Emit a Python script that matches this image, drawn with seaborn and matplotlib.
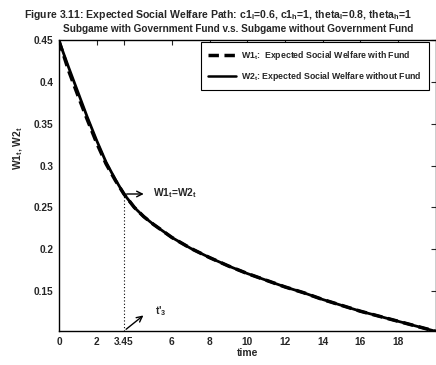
import numpy as np
import pandas as pd
import matplotlib
matplotlib.use("Agg")
import matplotlib.pyplot as plt
import seaborn as sns

# Expected social welfare paths over time
time = [0, 0.5, 1, 1.5, 2, 2.5, 3, 3.45, 4, 4.5, 5, 5.5, 6, 7, 8, 9, 10,
        11, 12, 13, 14, 15, 16, 17, 18, 19, 20]
w2_without_fund = [0.449, 0.418, 0.388, 0.358, 0.330, 0.304, 0.283, 0.266,
                   0.250, 0.239, 0.230, 0.222, 0.214, 0.201, 0.190, 0.180,
                   0.171, 0.163, 0.155, 0.148, 0.140, 0.133, 0.126, 0.120,
                   0.114, 0.108, 0.102]
w1_with_fund = [0.449, 0.414, 0.384, 0.355, 0.327, 0.302, 0.282, 0.266,
                0.250, 0.239, 0.230, 0.222, 0.214, 0.201, 0.190, 0.180,
                0.171, 0.163, 0.155, 0.148, 0.140, 0.133, 0.126, 0.120,
                0.114, 0.108, 0.102]
t_star = 3.45
w_at_t_star = 0.266

x_ticks = [0, 2, t_star, 6, 8, 10, 12, 14, 16, 18]
x_tick_labels = ["0", "2", "3.45", "6", "8", "10", "12", "14", "16", "18"]
y_ticks = [0.15, 0.2, 0.25, 0.3, 0.35, 0.4, 0.45]
y_tick_labels = ["0.15", "0.2", "0.25", "0.3", "0.35", "0.4", "0.45"]

label_w1 = "W1$_t$:  Expected Social Welfare with Fund"
label_w2 = "W2$_t$: Expected Social Welfare without Fund"

df = pd.concat([
    pd.DataFrame({"time": time, "welfare": w1_with_fund, "series": label_w1}),
    pd.DataFrame({"time": time, "welfare": w2_without_fund, "series": label_w2}),
])

sns.set_style("white")
plt.rcParams["font.family"] = ["Liberation Sans", "DejaVu Sans"]
plt.rcParams["font.weight"] = "bold"
plt.rcParams["mathtext.fontset"] = "custom"
plt.rcParams["mathtext.rm"] = "Liberation Sans:bold"
plt.rcParams["mathtext.it"] = "Liberation Sans:bold"
plt.rcParams["mathtext.bf"] = "Liberation Sans:bold"

fig = plt.figure(figsize=(4.36, 3.65), dpi=100)
ax = fig.add_axes([59 / 436, 1 - 331 / 365, 376.5 / 436, 291 / 365])

sns.lineplot(data=df, x="time", y="welfare", hue="series", style="series",
             palette=["black", "black"], dashes=[(3, 1.6), ""],
             ax=ax, legend=True)
lines = ax.get_lines()
lines[0].set_linewidth(2.5)
lines[1].set_linewidth(2.0)

ax.set_xlim(0, 20)
ax.set_ylim(0.1023, 0.45)
ax.set_xticks(x_ticks)
ax.set_xticklabels(x_tick_labels)
ax.set_yticks(y_ticks)
ax.set_yticklabels(y_tick_labels)
ax.tick_params(direction="in", length=3.5, width=0.8, labelsize=7.3,
               top=True, right=True, pad=4)
for s in ax.spines.values():
    s.set_color("black")
    s.set_linewidth(1.0)

ax.set_xlabel("time", fontsize=7.4, fontweight="bold", labelpad=1)
ax.set_ylabel("")
fig.text(18 / 436, 1 - 148 / 365, "W1$_t$, W2$_t$", rotation=90,
         fontsize=7.4, fontweight="bold", ha="center", va="center")

# crossing point of the two paths
ax.vlines(t_star, 0.1023, w_at_t_star, colors="black", linestyles=(0, (1, 2)),
          linewidth=0.8)
ax.annotate("", xy=(4.65, w_at_t_star), xytext=(t_star, w_at_t_star),
            arrowprops=dict(arrowstyle="->", color="black", lw=1.0))
ax.text(5.0, w_at_t_star + 0.001, "W1$_t$=W2$_t$", fontsize=7.4,
        fontweight="bold", va="center", ha="left")
ax.annotate("", xy=(4.6, 0.123), xytext=(t_star, 0.1023),
            arrowprops=dict(arrowstyle="->", color="black", lw=1.0))
ax.text(5.1, 0.126, "t'$_3$", fontsize=7.4, fontweight="bold",
        va="center", ha="left")

leg = ax.legend(loc="upper right", bbox_to_anchor=(1 - 7 / 376.5, 1 - 2 / 291),
                borderaxespad=0, fontsize=6.3,
                frameon=True, fancybox=False, framealpha=1, edgecolor="black",
                handlelength=3.3, borderpad=0.8, labelspacing=0.9,
                handletextpad=0.5)
leg.get_frame().set_linewidth(0.8)
for h in leg.get_lines():
    h.set_color("black")
leg.get_lines()[0].set_linewidth(2.5)
leg.get_lines()[1].set_linewidth(1.8)

fig.text(0.5, 1 - 15.5 / 365,
         "Figure 3.11: Expected Social Welfare Path: c1$_l$=0.6, c1$_h$=1, theta$_l$=0.8, theta$_h$=1",
         fontsize=7.6, fontweight="bold", ha="center", va="center")
fig.text(238 / 436, 1 - 29 / 365,
         "Subgame with Government Fund v.s. Subgame without Government Fund",
         fontsize=7.2, fontweight="bold", ha="center", va="center")

fig.savefig("out.png", dpi=100)
